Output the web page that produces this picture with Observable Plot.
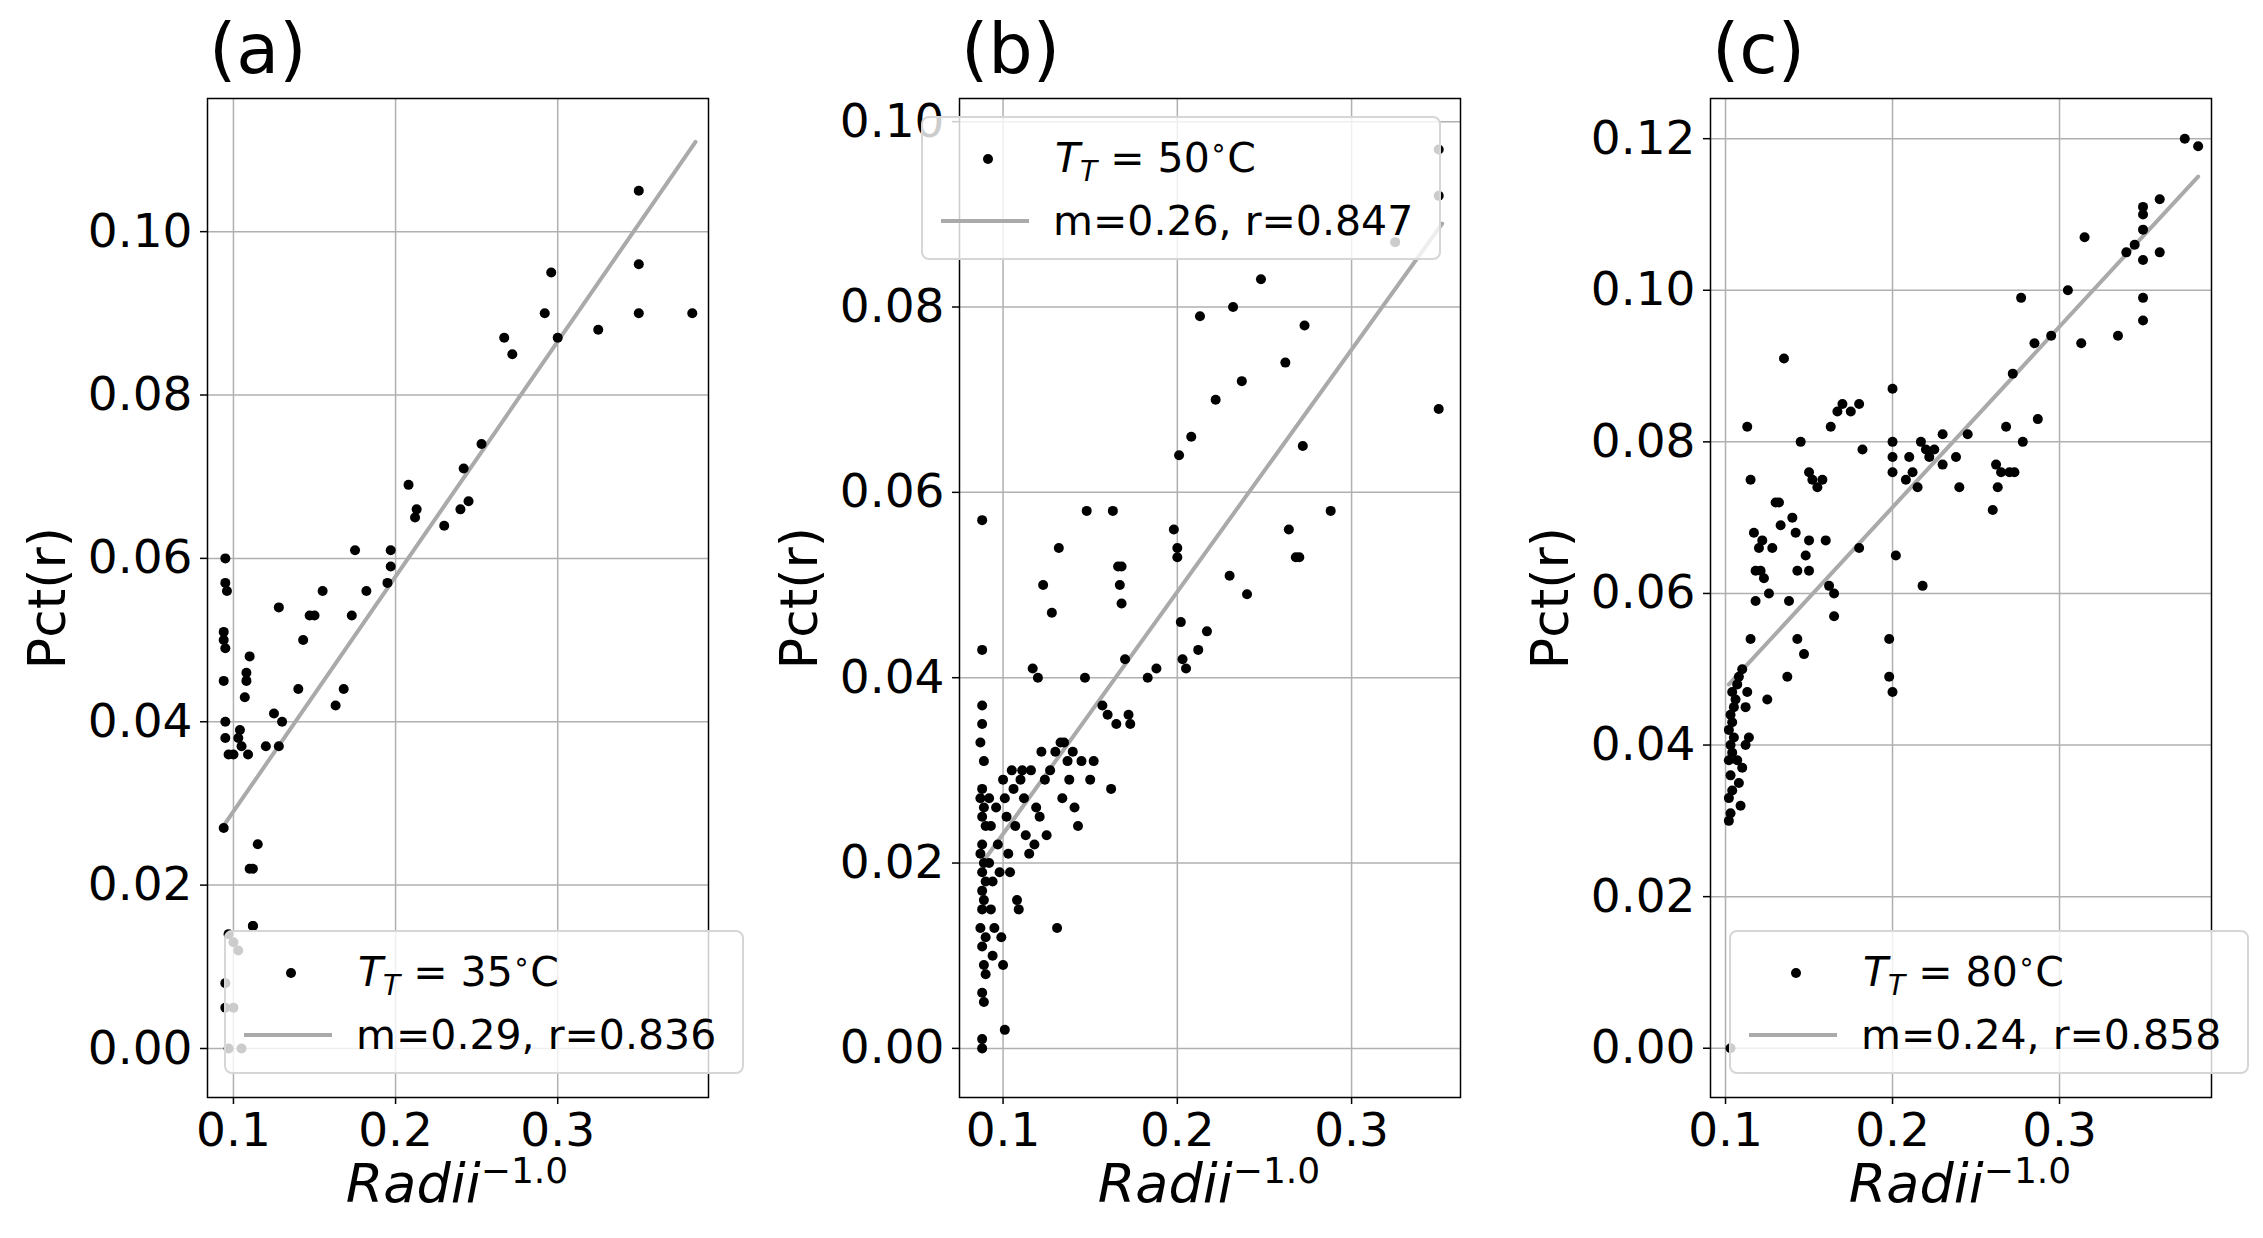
<!DOCTYPE html>
<html><head><meta charset="utf-8">
<script src="https://cdn.jsdelivr.net/npm/d3@7"></script>
<script src="https://cdn.jsdelivr.net/npm/@observablehq/plot@0.6"></script>
<style>
body{margin:0;background:#fff;font-family:"DejaVu Sans",sans-serif;}
#wrap{position:relative;width:2263px;height:1238px;overflow:hidden;}
.pl{position:absolute;top:0;}
.ttl{position:absolute;font-size:70px;}
.yl{position:absolute;font-size:52px;transform:translate(-50%,-50%) rotate(-90deg);white-space:nowrap;}
.xl{position:absolute;font-size:54px;transform:translateX(-50%);white-space:nowrap;font-style:italic;}
.xl sup{font-size:36px;font-style:normal;}
.lg{position:absolute;background:rgba(255,255,255,0.8);border:2px solid #d6d6d6;border-radius:8px;font-size:41px;}
.row{position:absolute;left:0;display:flex;align-items:center;white-space:nowrap;}
.dot{width:10px;height:10px;border-radius:50%;background:#000;margin-left:60px;margin-right:62px;}
.ln{width:88px;height:4px;background:#aaa;margin-left:18px;margin-right:24px;}
</style></head><body><div id="wrap"></div>
<script>
const xA=[0.095,0.095,0.096,0.094,0.094,0.095,0.094,0.095,0.095,0.097,0.094,0.100,0.103,0.104,0.105,0.107,0.108,0.108,0.110,0.109,0.110,0.112,0.115,0.112,0.120,0.125,0.128,0.130,0.128,0.140,0.143,0.147,0.150,0.155,0.163,0.168,0.175,0.173,0.182,0.195,0.197,0.197,0.208,0.212,0.213,0.230,0.240,0.242,0.245,0.253,0.267,0.272,0.292,0.296,0.300,0.325,0.350,0.350,0.350,0.383,0.095,0.095,0.097,0.100,0.103,0.097,0.105,0.100,0.112];
const yA=[0.060,0.057,0.056,0.051,0.050,0.049,0.045,0.040,0.038,0.036,0.027,0.036,0.038,0.039,0.037,0.043,0.045,0.046,0.048,0.036,0.022,0.022,0.025,0.015,0.037,0.041,0.037,0.040,0.054,0.044,0.050,0.053,0.053,0.056,0.042,0.044,0.061,0.053,0.056,0.057,0.059,0.061,0.069,0.065,0.066,0.064,0.066,0.071,0.067,0.074,0.087,0.085,0.090,0.095,0.087,0.088,0.105,0.096,0.090,0.090,0.008,0.005,0.014,0.013,0.012,0.000,0.000,0.005,0.015];
const xB=[0.088,0.088,0.088,0.088,0.087,0.089,0.088,0.087,0.089,0.088,0.090,0.088,0.087,0.089,0.088,0.090,0.088,0.089,0.088,0.087,0.090,0.088,0.089,0.090,0.088,0.089,0.088,0.088,0.092,0.093,0.092,0.094,0.093,0.095,0.094,0.096,0.097,0.098,0.099,0.100,0.101,0.102,0.100,0.101,0.103,0.104,0.105,0.106,0.107,0.108,0.109,0.110,0.111,0.112,0.113,0.115,0.116,0.117,0.118,0.119,0.120,0.121,0.122,0.123,0.124,0.125,0.127,0.128,0.130,0.131,0.132,0.133,0.134,0.135,0.137,0.138,0.140,0.141,0.143,0.145,0.147,0.148,0.150,0.152,0.157,0.160,0.162,0.163,0.165,0.166,0.167,0.168,0.168,0.170,0.172,0.173,0.183,0.188,0.198,0.200,0.200,0.201,0.202,0.203,0.205,0.208,0.212,0.213,0.217,0.222,0.230,0.232,0.237,0.240,0.248,0.262,0.264,0.268,0.270,0.272,0.273,0.288,0.325,0.350,0.350,0.350];
const yB=[0.057,0.043,0.037,0.035,0.033,0.031,0.028,0.027,0.026,0.025,0.024,0.022,0.021,0.020,0.019,0.018,0.017,0.016,0.015,0.013,0.012,0.011,0.009,0.008,0.006,0.005,0.001,0.000,0.027,0.024,0.020,0.018,0.015,0.013,0.010,0.026,0.022,0.019,0.012,0.029,0.027,0.025,0.009,0.002,0.021,0.019,0.030,0.028,0.024,0.016,0.015,0.029,0.030,0.027,0.023,0.021,0.030,0.041,0.022,0.026,0.040,0.025,0.032,0.050,0.029,0.023,0.030,0.047,0.032,0.013,0.054,0.033,0.027,0.033,0.031,0.029,0.032,0.026,0.024,0.031,0.040,0.058,0.029,0.031,0.037,0.036,0.028,0.058,0.035,0.052,0.050,0.048,0.052,0.042,0.036,0.035,0.040,0.041,0.056,0.054,0.053,0.064,0.046,0.042,0.041,0.066,0.043,0.079,0.045,0.070,0.051,0.080,0.072,0.049,0.083,0.074,0.056,0.053,0.053,0.065,0.078,0.058,0.087,0.097,0.092,0.069];
const xC=[0.102,0.103,0.102,0.104,0.103,0.102,0.104,0.103,0.105,0.102,0.104,0.103,0.105,0.106,0.104,0.107,0.108,0.110,0.107,0.108,0.109,0.110,0.112,0.114,0.112,0.113,0.115,0.113,0.115,0.117,0.118,0.118,0.120,0.121,0.122,0.123,0.125,0.126,0.128,0.130,0.132,0.133,0.135,0.137,0.138,0.140,0.142,0.143,0.143,0.145,0.147,0.148,0.150,0.150,0.150,0.152,0.155,0.158,0.160,0.162,0.163,0.165,0.165,0.167,0.170,0.175,0.180,0.180,0.182,0.198,0.198,0.200,0.200,0.200,0.200,0.200,0.202,0.208,0.210,0.212,0.215,0.217,0.218,0.220,0.222,0.225,0.230,0.230,0.238,0.240,0.245,0.260,0.262,0.263,0.265,0.268,0.270,0.272,0.273,0.277,0.278,0.285,0.287,0.295,0.305,0.313,0.315,0.335,0.340,0.345,0.350,0.350,0.350,0.350,0.350,0.350,0.360,0.360,0.375,0.383,0.103];
const yC=[0.030,0.031,0.033,0.034,0.036,0.038,0.039,0.040,0.041,0.042,0.043,0.044,0.045,0.046,0.047,0.048,0.049,0.050,0.038,0.035,0.032,0.037,0.040,0.041,0.045,0.047,0.054,0.082,0.075,0.068,0.063,0.059,0.066,0.063,0.067,0.062,0.046,0.060,0.066,0.072,0.072,0.069,0.091,0.049,0.059,0.070,0.068,0.063,0.054,0.080,0.052,0.065,0.067,0.063,0.076,0.075,0.074,0.075,0.067,0.061,0.082,0.057,0.060,0.084,0.085,0.084,0.085,0.066,0.079,0.049,0.054,0.087,0.080,0.078,0.076,0.047,0.065,0.075,0.078,0.076,0.074,0.080,0.061,0.079,0.078,0.079,0.081,0.077,0.078,0.074,0.081,0.071,0.077,0.074,0.076,0.082,0.076,0.089,0.076,0.099,0.080,0.093,0.083,0.094,0.100,0.093,0.107,0.094,0.105,0.106,0.111,0.110,0.108,0.104,0.099,0.096,0.112,0.105,0.120,0.119,0.000];
const fitXA=[0.093,0.385], fitYA=[0.027,0.111];
const fitXB=[0.088,0.352], fitYB=[0.020,0.089];
const fitXC=[0.102,0.383], fitYC=[0.048,0.115];
const titles=["(a)","(b)","(c)"];
const legendT=["35","50","80"];
const legendFit=["m=0.29, r=0.836","m=0.26, r=0.847","m=0.24, r=0.858"];

const panels=[
 {x:xA,y:yA,fx:fitXA,fy:fitYA,xd:[0.084,0.393],yd:[-0.006,0.1163],yt:[0,0.02,0.04,0.06,0.08,0.10],left:7,lg:[224,930]},
 {x:xB,y:yB,fx:fitXB,fy:fitYB,xd:[0.075,0.3625],yd:[-0.0053,0.1025],yt:[0,0.02,0.04,0.06,0.08,0.10],left:759,lg:[921,116]},
 {x:xC,y:yC,fx:fitXC,fy:fitYC,xd:[0.091,0.391],yd:[-0.0065,0.1253],yt:[0,0.02,0.04,0.06,0.08,0.10,0.12],left:1510,lg:[1729,930]}
];
const wrap=document.getElementById("wrap");
panels.forEach((p,i)=>{
  const pts=p.x.map((v,k)=>({x:v,y:p.y[k]}));
  const fit=p.fx.map((v,k)=>({x:v,y:p.fy[k]}));
  const svg=Plot.plot({
    width:740,height:1238,marginLeft:200,marginRight:39,marginTop:98,marginBottom:141,
    style:{fontSize:"47px",fontFamily:"DejaVu Sans",color:"black",background:"transparent",overflow:"visible"},
    x:{domain:p.xd,label:null},
    y:{domain:p.yd,label:null},
    marks:[
      Plot.gridX([0.1,0.2,0.3],{stroke:"#b0b0b0",strokeOpacity:1,strokeWidth:1.5}),
      Plot.gridY(p.yt,{stroke:"#b0b0b0",strokeOpacity:1,strokeWidth:1.5}),
      Plot.line(fit,{x:"x",y:"y",stroke:"#aaaaaa",strokeWidth:4}),
      Plot.dot(pts,{x:"x",y:"y",r:5,fill:"black"}),
      Plot.axisX([0.1,0.2,0.3],{tickFormat:d3.format(".1f"),tickSize:7,tickPadding:8,strokeWidth:1.5}),
      Plot.axisY(p.yt,{tickFormat:d3.format(".2f"),tickSize:7,tickPadding:8,strokeWidth:1.5}),
      Plot.frame({stroke:"black",strokeWidth:1.5})
    ]
  });
  svg.classList.add("pl"); svg.style.left=p.left+"px";
  wrap.appendChild(svg);
  const fl=p.left+200;
  const t=document.createElement("div");t.className="ttl";t.textContent=titles[i];
  t.style.left=(fl+2)+"px";t.style.top="8px";wrap.appendChild(t);
  const yl=document.createElement("div");yl.className="yl";yl.textContent="Pct(r)";
  yl.style.left=(fl-160)+"px";yl.style.top="598px";wrap.appendChild(yl);
  const xl=document.createElement("div");xl.className="xl";xl.innerHTML="Radii<sup>\u22121.0</sup>";
  xl.style.left=(fl+250)+"px";xl.style.top="1150px";wrap.appendChild(xl);
  const lg=document.createElement("div");lg.className="lg";
  lg.style.left=p.lg[0]+"px";lg.style.top=p.lg[1]+"px";lg.style.width="516px";lg.style.height="140px";
  lg.innerHTML=`<div class="row" style="top:10px;height:62px"><div class="dot"></div><span><i>T</i><sub style="font-size:28px"><i>T</i></sub> = ${legendT[i]}<sup style="font-size:28px">\u2218</sup>C</span></div>
  <div class="row" style="top:72px;height:62px"><div class="ln"></div><span>${legendFit[i]}</span></div>`;
  wrap.appendChild(lg);
});
</script></body></html>
